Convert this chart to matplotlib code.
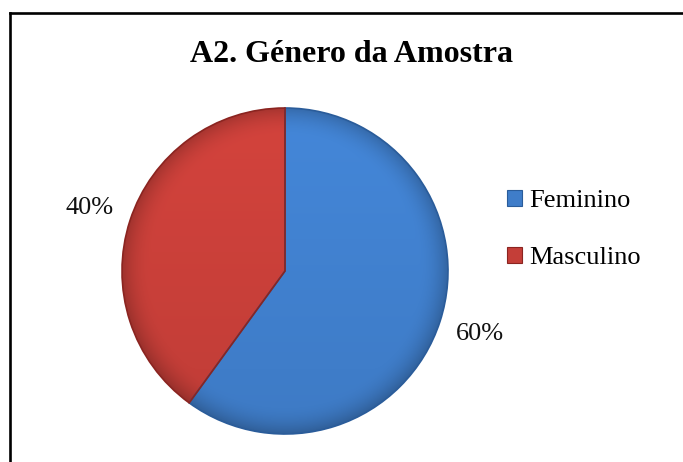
import matplotlib
matplotlib.use("Agg")
import matplotlib.pyplot as plt
import numpy as np
from matplotlib.lines import Line2D
from matplotlib.patches import Patch
from matplotlib.colors import to_rgb

categories = ["Feminino", "Masculino"]
values = [60, 40]
colors = ["#3F7DC9", "#C43E38"]
edge_colors = ["#2A5C9A", "#8B2420"]
title = "A2. Género da Amostra"

plt.rcParams["font.family"] = ["Liberation Serif", "DejaVu Serif"]

W, H = 683, 462
fig = plt.figure(figsize=(W / 100, H / 100), dpi=100)
fig.patch.set_facecolor("white")

# pie axes: centre (285, 271) px, radius 163 px
cx, cy, r = 285, 271, 163
ax = fig.add_axes([(cx - r) / W, (H - cy - r) / H, 2 * r / W, 2 * r / H])
wedges, texts, autotexts = ax.pie(
    values, colors=colors, startangle=90, counterclock=False,
    autopct=lambda p: f"{p:.0f}%", pctdistance=1.26,
    wedgeprops=dict(linewidth=1.2), textprops=dict(fontsize=19, color="#111111"),
    radius=1.0)

# soft shading inside each wedge (slightly lighter top, darker rim)
n = 400
gx, gy = np.meshgrid(np.linspace(-1, 1, n), np.linspace(1, -1, n))
rr = np.sqrt(gx ** 2 + gy ** 2)
rim = np.clip((rr - 0.82) / 0.18, 0, 1) ** 2
shade = 1.03 + 0.05 * gy - 0.22 * rim
for w, c, ec in zip(wedges, colors, edge_colors):
    base = np.array(to_rgb(c))
    img = np.clip(base[None, None, :] * shade[:, :, None], 0, 1)
    im = ax.imshow(img, extent=(-1, 1, -1, 1), zorder=1, interpolation="bilinear")
    im.set_clip_path(w)
    w.set_facecolor("none")
    w.set_edgecolor(ec)
    w.set_zorder(2)

ax.set_xlim(-1, 1)
ax.set_ylim(-1, 1)
ax.set_aspect("equal")
ax.axis("off")

fig.text(351 / W, 1 - 54 / H, title, ha="center", va="center",
         fontsize=23, fontweight="bold")

handles = [Patch(facecolor=c, edgecolor=ec, linewidth=0.8) for c, ec in zip(colors, edge_colors)]
fig.legend(handles, categories, loc="upper left", bbox_to_anchor=(494 / W, 1 - 177 / H),
           frameon=False, fontsize=19, handlelength=0.55, handleheight=0.55,
           handletextpad=0.3, labelspacing=1.3, borderpad=0)

# outer frame (left and top edges visible)
fig.add_artist(Line2D([10 / W, 10 / W], [0, 1 - 13 / H], transform=fig.transFigure,
                      color="black", linewidth=1.9))
fig.add_artist(Line2D([10 / W, 1], [1 - 13 / H, 1 - 13 / H], transform=fig.transFigure,
                      color="black", linewidth=1.9))

fig.savefig("out.png", dpi=100, facecolor="white")
